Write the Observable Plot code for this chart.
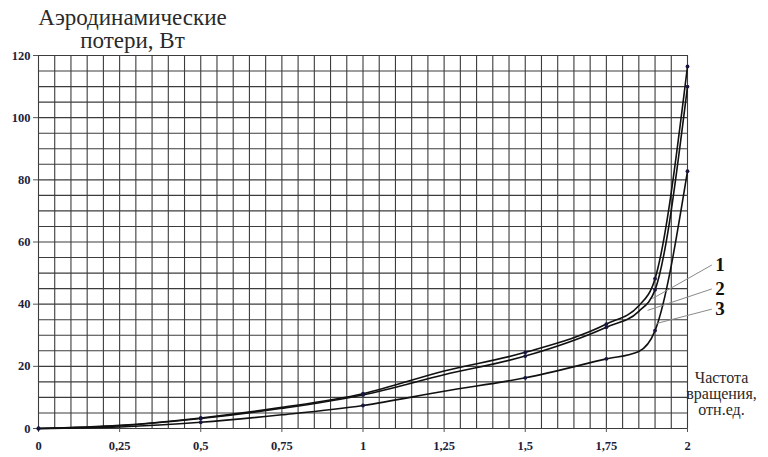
<!DOCTYPE html>
<html>
<head>
<meta charset="utf-8">
<script src="https://cdn.jsdelivr.net/npm/d3@7"></script>
<script src="https://cdn.jsdelivr.net/npm/@observablehq/plot@0.6"></script>
<style>
  html, body { margin: 0; padding: 0; background: #fff; font-family: "Liberation Serif", serif; }
  #chart svg { display: block; }
</style>
</head>
<body>
<div id="chart"></div>
<script>
// ---- data ----
const xs = [0, 0.25, 0.5, 0.75, 1, 1.25, 1.5, 1.75, 1.85, 1.9, 2];
const curve1 = [0, 1.0, 3.4, 6.8, 11.2, 18.5, 24.5, 33.6, 39.5, 48.2, 116.5];
const curve2 = [0, 0.9, 3.2, 6.5, 10.8, 17.3, 23.3, 32.6, 37.7, 44.6, 110];
const curve3 = [0, 0.5, 2.0, 4.4, 7.4, 12.0, 16.3, 22.4, 24.8, 31.5, 82.8];
const markedX = [0, 0.5, 1, 1.5, 1.75, 1.9, 2];
const seriesNames = ["1", "2", "3"];

const xTicks = [0, 0.25, 0.5, 0.75, 1, 1.25, 1.5, 1.75, 2];
const yTicks = [0, 20, 40, 60, 80, 100, 120];
const xGridStep = 0.05;
const yGridStep = 5;

const labelX = 2.1;
const labelY = [52.6, 44.9, 38.4];
const leaderStartX = 2.075;
const leaderEndX = [1.892, 1.877, 1.905];
const leaderEndY = [41.8, 38.0, 33.8];

const yTitle = "Аэродинамические\nпотери, Вт";
const xTitle = "Частота\nвращения,\nотн.ед.";

// ---- tables built from the arrays ----
const curves = [curve1, curve2, curve3];
const rows = curves.flatMap((c, i) => xs.map((x, j) => ({series: seriesNames[i], x, y: c[j]})));
const dots = rows.filter(d => markedX.includes(d.x));
const xGrid = d3.range(0, 40 + 1).map(i => +(i * xGridStep).toFixed(4));
const yGrid = d3.range(0, 24 + 1).map(i => i * yGridStep);
const leaders = seriesNames.map((s, i) => ({
  s, x1: leaderStartX, y1: labelY[i], x2: leaderEndX[i], y2: leaderEndY[i]
}));
const labelRows = seriesNames.map((s, i) => ({s, x: labelX, y: labelY[i]}));

const serif = "Liberation Serif, Times New Roman, serif";

const chart = Plot.plot({
  width: 768,
  height: 457,
  marginLeft: 38,
  marginRight: 81,
  marginTop: 55,
  marginBottom: 29,
  x: {domain: [0, 2]},
  y: {domain: [0, 120]},
  style: {background: "#fff", fontFamily: serif},
  marks: [
    Plot.ruleX(xGrid, {stroke: "#3c3c3c", strokeWidth: 1.1}),
    Plot.ruleY(yGrid, {stroke: "#3c3c3c", strokeWidth: 1.1}),
    Plot.axisX(xTicks, {
      tickSize: 4, tickPadding: 9, stroke: "#555",
      tickFormat: d => String(d).replace(".", ","),
      fontSize: 12.5, fontWeight: "bold", fill: "#1e1e3a",
      label: null
    }),
    Plot.axisY(yTicks, {
      tickSize: 5, tickPadding: 3, stroke: "#555",
      fontSize: 12.5, fontWeight: "bold", fill: "#1e1e3a",
      label: null
    }),
    Plot.line(rows, {x: "x", y: "y", z: "series", curve: "monotone-x", stroke: "#111", strokeWidth: 1.6}),
    Plot.dot(dots, {x: "x", y: "y", r: 1.9, fill: "#161640", stroke: null}),
    Plot.link(leaders, {x1: "x1", y1: "y1", x2: "x2", y2: "y2", stroke: "#8a8a8a", strokeWidth: 1, clip: false}),
    Plot.text(labelRows, {x: "x", y: "y", text: "s", fontSize: 19, fontWeight: "bold", fill: "#111", clip: false}),
    Plot.text([yTitle], {
      frameAnchor: "top-left", dx: 94, dy: -26.5, textAnchor: "middle", lineAnchor: "middle",
      lineHeight: 1.0, fontSize: 23, fill: "#2a2a2a"
    }),
    Plot.text([xTitle], {
      frameAnchor: "bottom-right", dx: 34, dy: -35, textAnchor: "middle", lineAnchor: "middle",
      lineHeight: 1.0, fontSize: 16, fill: "#2a2a2a"
    })
  ]
});
chart.querySelectorAll("text, tspan").forEach(t => {
  t.style.fontFamily = "'Liberation Serif', 'Times New Roman', serif";
});
document.getElementById("chart").appendChild(chart);
</script>
</body>
</html>
